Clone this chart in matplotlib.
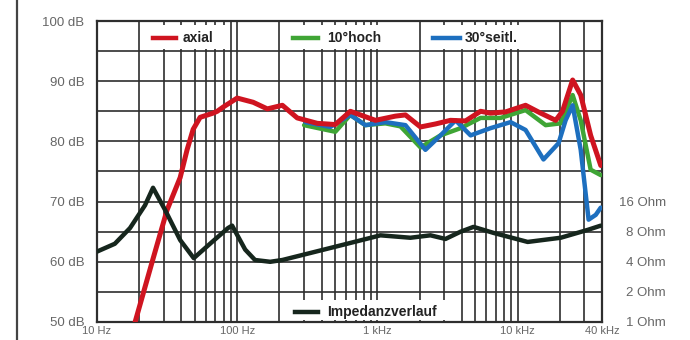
import numpy as np
import matplotlib
matplotlib.use("Agg")
import matplotlib.pyplot as plt
from matplotlib.patches import Rectangle
from matplotlib.lines import Line2D
from matplotlib.ticker import FixedLocator, NullFormatter

plt.rcParams['font.family'] = ['Liberation Sans', 'DejaVu Sans']

# ---------------- data ----------------
axial_f = [17.2, 18.7, 25.1, 31.6, 39.2, 43.9, 48.5, 54.4, 67.4, 72, 79.4, 100, 130, 164, 210,
           268, 373, 501, 641, 756, 968, 1345, 1585, 2030, 2600, 3320, 4250, 5440, 6410, 8210,
           11400, 14600, 18700, 20900, 24700, 28200, 33200, 39200]
axial_db = [47.2, 50, 60.5, 68.6, 74, 78.6, 82, 84, 84.7, 85, 85.7, 87.2, 86.5, 85.4, 86,
            83.9, 83, 82.8, 85, 84.4, 83.5, 84.2, 84.4, 82.4, 82.9, 83.5, 83.4, 85, 84.7, 84.9,
            86, 84.7, 83.5, 85, 90.2, 87.7, 81, 76]

hoch_f = [300, 501, 641, 821, 1140, 1460, 2030, 2820, 3920, 5440, 7560, 11400, 15850, 20300,
          24700, 28200, 33200, 39200]
hoch_db = [82.7, 81.6, 84.4, 82.7, 83, 82.5, 79, 81, 82.2, 83.9, 83.9, 85.2, 82.7, 83,
           87.7, 83.5, 75.3, 74.4]

seitl_f = [306, 462, 641, 821, 1140, 1585, 2200, 2820, 3610, 4620, 6410, 8910, 11400, 15300,
           19600, 22000, 24700, 28200, 32100, 36100, 39200]
seitl_db = [83.2, 82.4, 84.4, 82.7, 83.2, 82.7, 78.6, 81, 83.5, 81, 82.2, 83.2, 81.9, 77,
            79.7, 83.5, 86, 78.6, 67, 67.8, 69]

imp_f = [10, 13.4, 17.2, 22, 25.1, 30.6, 39.2, 49, 64, 86, 92, 114, 134, 172, 210, 462, 936,
         1050, 1720, 2390, 3060, 3920, 4850, 6740, 11800, 20300, 31600, 39200]
imp_ohm = [5.06, 6.06, 8.7, 14.7, 22, 13.2, 6.6, 4.35, 6.06, 8.7, 9.2, 5.3, 4.17, 4, 4.17, 5.5,
           7.06, 7.36, 6.96, 7.36, 6.77, 8, 8.94, 7.78, 6.32, 6.96, 8.34, 9.2]

db_ticks = [50, 60, 70, 80, 90, 100]
db_labels = ["50 dB", "60 dB", "70 dB", "80 dB", "90 dB", "100 dB"]
ohm_ticks = [1, 2, 4, 8, 16]
ohm_labels = ["1 Ohm", "2 Ohm", "4 Ohm", "8 Ohm", "16 Ohm"]
f_ticks = [10, 100, 1000, 10000, 40000]
f_labels = ["10 Hz", "100 Hz", "1 kHz", "10 kHz", "40 kHz"]

RED = "#cf1420"
GREEN = "#3fa535"
BLUE = "#1d6fbf"
BLACK = "#16261d"
GRID = "#2e2e2e"
LABEL = "#666666"

# ---------------- figure ----------------
fig = plt.figure(figsize=(6.9, 3.4), dpi=100)
fig.patch.set_facecolor("white")
ax = fig.add_axes([97/690, 18/340, 505/690, 301/340])
ax.set_xscale("log")
ax.set_xlim(10, 40000)
ax.set_ylim(50, 100)

# grid
vgrid = [m * 10**e for e in range(1, 5) for m in range(1, 10) if m * 10**e < 40000]
ax.xaxis.set_major_locator(FixedLocator(f_ticks))
ax.xaxis.set_minor_locator(FixedLocator(vgrid))
ax.xaxis.set_minor_formatter(NullFormatter())
ax.set_xticklabels(f_labels)
ax.yaxis.set_major_locator(FixedLocator(db_ticks))
ax.yaxis.set_minor_locator(FixedLocator(list(range(50, 101, 5))))
ax.set_yticklabels(db_labels)
ax.grid(True, which="minor", color=GRID, linewidth=1.2)
ax.grid(True, which="major", color=GRID, linewidth=1.2)
ax.set_axisbelow(True)
ax.tick_params(which="both", length=0)
ax.tick_params(axis="y", pad=9, labelsize=9.5, labelcolor=LABEL)
ax.tick_params(axis="x", pad=3, labelsize=8, labelcolor=LABEL)
for s in ax.spines.values():
    s.set_color(GRID)
    s.set_linewidth(1.6)

ax.plot(hoch_f, hoch_db, color=GREEN, lw=3.2, solid_joinstyle="round", solid_capstyle="round", zorder=3)
ax.plot(seitl_f, seitl_db, color=BLUE, lw=3.2, solid_joinstyle="round", solid_capstyle="round", zorder=4)
ax.plot(axial_f, axial_db, color=RED, lw=3.6, solid_joinstyle="round", solid_capstyle="round", zorder=5)

ax2 = ax.twinx()
ax2.set_yscale("log")
ax2.set_ylim(1, 1024)
ax2.yaxis.set_major_locator(FixedLocator(ohm_ticks))
ax2.yaxis.set_minor_locator(FixedLocator([]))
ax2.set_yticklabels(ohm_labels)
ax2.tick_params(axis="y", length=0, pad=46, labelsize=9.5, labelcolor=LABEL)
for lab in ax2.get_yticklabels():
    lab.set_horizontalalignment("right")
for s in ax2.spines.values():
    s.set_visible(False)
ax2.plot(imp_f, imp_ohm, color=BLACK, lw=3.2, solid_joinstyle="round", solid_capstyle="round", zorder=3)

# legend boxes
def legend_entry(box, line, ty, color, text):
    ax2.add_patch(Rectangle((box[0], box[1]), box[2] - box[0], box[3] - box[1],
                            transform=ax2.transAxes, facecolor="white", edgecolor="none", zorder=6))
    ax2.add_line(Line2D([line[0], line[1]], [ty, ty], transform=ax2.transAxes,
                        color=color, lw=3.2, zorder=7))
    ax2.text(line[2], ty, text, transform=ax2.transAxes, ha="left", va="center",
             fontsize=10, fontweight="bold", color="#222222", zorder=8)

legend_entry((0.101, 0.907, 0.259, 0.987), (0.111, 0.156, 0.170), 0.944, RED, "axial")
legend_entry((0.378, 0.907, 0.576, 0.987), (0.388, 0.438, 0.455), 0.944, GREEN, "10°hoch")
legend_entry((0.655, 0.907, 0.851, 0.987), (0.665, 0.719, 0.729), 0.944, BLUE, "30°seitl.")
legend_entry((0.382, 0.007, 0.709, 0.073), (0.392, 0.438, 0.455), 0.033, BLACK, "Impedanzverlauf")

# left frame border
fig.add_artist(Line2D([17/690, 17/690], [0, 1], transform=fig.transFigure, color="#444444", lw=1.6))

fig.savefig("out.png", dpi=100, facecolor="white")
